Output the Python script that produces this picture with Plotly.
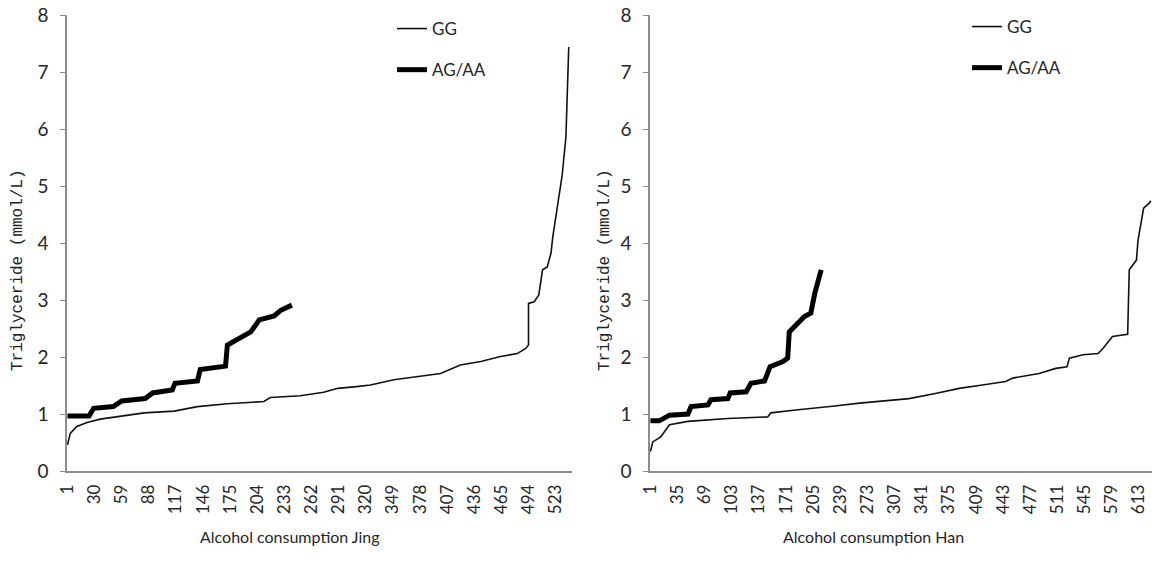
import plotly.graph_objects as go

# ---------------- data ----------------
jing_x_ticks = [1, 30, 59, 88, 117, 146, 175, 204, 233, 262, 291, 320, 349, 378, 407, 436, 465, 494, 523]
han_x_ticks = [1, 35, 69, 103, 137, 171, 205, 239, 273, 307, 341, 375, 409, 443, 477, 511, 545, 579, 613]
y_ticks = [0, 1, 2, 3, 4, 5, 6, 7, 8]

jing_gg_idx = [1, 4, 11, 22, 36, 65, 83, 115, 140, 172, 211, 218, 250, 275, 290, 310, 325, 350,
               371, 400, 421, 443, 464, 482, 491, 494, 494, 500, 505, 509, 514, 518, 520, 523,
               526, 530, 534, 537]
jing_gg_tg = [0.46, 0.66, 0.78, 0.85, 0.91, 0.98, 1.02, 1.05, 1.13, 1.18, 1.22, 1.29, 1.32, 1.38,
              1.45, 1.48, 1.51, 1.60, 1.65, 1.71, 1.86, 1.92, 2.01, 2.06, 2.15, 2.21, 2.94, 2.97,
              3.09, 3.53, 3.58, 3.82, 4.11, 4.43, 4.72, 5.19, 5.86, 7.44]

jing_ag_idx = [1, 24, 29, 50, 59, 84, 92, 113, 116, 140, 143, 170, 172, 197, 206, 222, 229, 241]
jing_ag_tg = [0.965, 0.965, 1.10, 1.13, 1.23, 1.27, 1.37, 1.42, 1.54, 1.58, 1.78, 1.84, 2.21,
              2.44, 2.65, 2.72, 2.82, 2.91]

han_gg_idx = [1, 4, 14, 25, 48, 98, 148, 152, 183, 213, 232, 263, 296, 325, 358, 388, 417, 446,
              455, 488, 509, 523, 526, 543, 562, 568, 580, 599, 601, 610, 612, 616, 619, 626, 628]
han_gg_tg = [0.34, 0.51, 0.60, 0.81, 0.87, 0.92, 0.95, 1.02, 1.07, 1.12, 1.14, 1.19, 1.23, 1.27,
             1.36, 1.45, 1.51, 1.57, 1.63, 1.71, 1.80, 1.83, 1.98, 2.04, 2.06, 2.15, 2.36, 2.40,
             3.53, 3.70, 4.05, 4.40, 4.61, 4.70, 4.74]

han_ag_idx = [1, 12, 25, 48, 52, 73, 77, 98, 101, 121, 127, 144, 151, 167, 173, 175, 194, 202,
              207, 211, 215]
han_ag_tg = [0.88, 0.88, 0.98, 1.00, 1.13, 1.16, 1.25, 1.27, 1.37, 1.39, 1.54, 1.58, 1.83, 1.92,
             1.98, 2.44, 2.71, 2.77, 3.12, 3.35, 3.53]

# ---------------- figure ----------------
W, H = 1157, 569
fig = go.Figure()

thin = dict(color="#111111", width=1.6)
thick = dict(color="black", width=5)

fig.add_trace(go.Scatter(x=jing_gg_idx, y=jing_gg_tg, mode="lines", name="GG", line=thin,
                         xaxis="x", yaxis="y", legend="legend", legendgroup="a"))
fig.add_trace(go.Scatter(x=jing_ag_idx, y=jing_ag_tg, mode="lines", name="AG/AA", line=thick,
                         xaxis="x", yaxis="y", legend="legend", legendgroup="b"))
fig.add_trace(go.Scatter(x=han_gg_idx, y=han_gg_tg, mode="lines", name="GG", line=thin,
                         xaxis="x2", yaxis="y2", legend="legend2", legendgroup="c"))
fig.add_trace(go.Scatter(x=han_ag_idx, y=han_ag_tg, mode="lines", name="AG/AA", line=thick,
                         xaxis="x2", yaxis="y2", legend="legend2", legendgroup="d"))

axis_color = "#8c8c8c"
tick_font = dict(family="Lato, Open Sans, sans-serif", size=17, color="#262626")
ytick_font = dict(family="Lato, Open Sans, sans-serif", size=19, color="#262626")


def xaxis(domain, ticks, rng):
    return dict(domain=domain, range=rng, tickmode="array", tickvals=ticks,
                ticktext=[str(t) for t in ticks], tickangle=-90, tickfont=tick_font,
                showline=True, linecolor=axis_color, linewidth=1.5, showgrid=False,
                zeroline=False, ticks="", ticklabelstandoff=5, automargin=False)


def yaxis(anchor):
    return dict(domain=[(H - 471) / H, (H - 15) / H], range=[0, 8], tickvals=y_ticks,
                tickfont=ytick_font, showline=True, linecolor=axis_color, linewidth=1.5,
                showgrid=False, zeroline=False, ticks="outside", ticklen=5,
                tickcolor=axis_color, ticklabelstandoff=8, anchor=anchor, automargin=False)


legend_common = dict(bgcolor="rgba(0,0,0,0)", font=dict(family="Lato, Open Sans, sans-serif",
                     size=17, color="#262626"), tracegroupgap=16, xanchor="left",
                     yanchor="top", itemwidth=30)

fig.update_layout(
    width=W, height=H,
    margin=dict(l=0, r=0, t=0, b=0),
    paper_bgcolor="white", plot_bgcolor="white",
    xaxis=xaxis([67 / W, 572 / W], jing_x_ticks, [0.5, 540.5]),
    yaxis=yaxis("x"),
    xaxis2=xaxis([650 / W, 1152 / W], han_x_ticks, [0.5, 629.5]),
    yaxis2=yaxis("x2"),
    legend=dict(x=392 / W, y=1 - 11 / H, **legend_common),
    legend2=dict(x=967 / W, y=1 - 9 / H, **legend_common),
    showlegend=True,
)

mono = dict(family="Liberation Mono, Courier New, monospace", size=16, color="#222222")
sans = dict(family="Lato, Open Sans, sans-serif", size=16, color="#262626")
for xc, txt in [(18, "Triglyceride (mmol/L)"), (605, "Triglyceride (mmol/L)")]:
    fig.add_annotation(text=txt, xref="paper", yref="paper", x=xc / W, y=1 - 270 / H,
                       xanchor="center", yanchor="middle", textangle=-90,
                       showarrow=False, font=mono)
for xc, txt in [(290, "Alcohol consumption Jing"), (873, "Alcohol consumption Han")]:
    fig.add_annotation(text=txt, xref="paper", yref="paper", x=xc / W, y=1 - 536 / H,
                       xanchor="center", yanchor="middle", showarrow=False, font=sans)

fig.write_html("out.html")
